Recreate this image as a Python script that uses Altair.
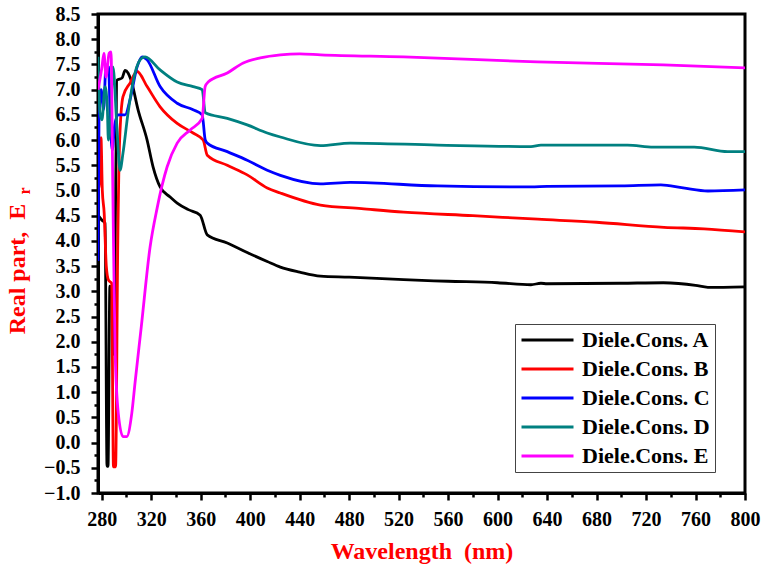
import altair as alt
import pandas as pd

series_names = ["Diele.Cons. A", "Diele.Cons. B", "Diele.Cons. C", "Diele.Cons. D", "Diele.Cons. E"]
series_colors = ["#000000", "#ff0000", "#0000ff", "#008080", "#ff00ff"]

wl_A = [277, 280.2, 282.7, 284.3, 285.1, 286.6, 288.5, 289.8, 292.4, 296.4,
        298.9, 301.3, 303.7, 309.4, 316.7, 321.5, 327.2, 335.3, 341, 350,
        359.6, 365.3, 381.5, 397.6, 413.8, 424.4, 440, 456.8, 480, 524,
        560, 600, 627, 635, 640, 700, 734, 760, 770, 800]
er_A = [4.51, 4.41, 4.35, -0.47, -0.47, 3.1, 3.0, 1.75, 7.19, 7.23,
        7.38, 7.33, 7.19, 6.6, 6.0, 5.47, 5.07, 4.87, 4.75, 4.62,
        4.51, 4.12, 3.96, 3.77, 3.59, 3.48, 3.38, 3.3, 3.28, 3.23,
        3.2, 3.17, 3.13, 3.16, 3.15, 3.16, 3.17, 3.12, 3.08, 3.09]

wl_B = [277, 278.5, 279.4, 280.5, 282, 283.7, 285.5, 288, 289.5, 291.2,
        293, 294.5, 297.2, 302.9, 308.6, 316.7, 327.2, 341, 353.9, 362,
        365.3, 381.5, 397.6, 413.8, 424.4, 456.8, 490, 524, 580, 632.5,
        680, 734.5, 766.9, 800]
er_B = [5.0, 5.2, 6.05, 5.0, 4.55, 3.5, 3.22, 3.16, -0.48, -0.48,
        4.0, 6.0, 6.86, 7.13, 7.36, 7.06, 6.66, 6.33, 6.14, 6.0,
        5.7, 5.5, 5.31, 5.05, 4.95, 4.71, 4.64, 4.57, 4.5, 4.43,
        4.37, 4.27, 4.24, 4.18]

wl_C = [277, 277.8, 279.5, 281.5, 283.5, 285.5, 287, 288.5, 290.5, 293.2,
        298.9, 302.9, 308.6, 312.6, 316.7, 327.2, 341, 353.9, 361.2, 363.7,
        365.3, 381.5, 397.6, 413.8, 424.4, 456.8, 481, 551.5, 627, 640,
        700, 732, 750, 770, 800]
er_C = [3.6, 6.4, 7.0, 6.6, 7.49, 7.45, 6.4, 5.8, 6.3, 6.5,
        6.5, 6.8, 7.45, 7.65, 7.59, 7.06, 6.73, 6.6, 6.5, 6.0,
        5.94, 5.77, 5.6, 5.4, 5.3, 5.13, 5.16, 5.09, 5.07, 5.08,
        5.09, 5.11, 5.05, 4.99, 5.01]

wl_D = [277, 278.6, 280.2, 282.7, 284.5, 285.4, 286.7, 289.1, 292.4, 294.8,
        297.2, 301.3, 306.9, 312.6, 315, 327.2, 341, 353.9, 361.2, 363.7,
        381.5, 397.6, 413.8, 424.4, 456.8, 481, 551.5, 627, 635, 705,
        726, 759, 786, 800]
er_D = [7.65, 6.54, 6.4, 7.06, 6.66, 6.0, 6.2, 7.45, 6.2, 5.4,
        5.74, 6.54, 7.33, 7.63, 7.65, 7.39, 7.15, 7.06, 7.0, 6.54,
        6.43, 6.3, 6.14, 6.06, 5.89, 5.94, 5.9, 5.87, 5.9, 5.9,
        5.86, 5.86, 5.77, 5.77]

wl_E = [277, 280.2, 281.8, 283.5, 286, 287.5, 289, 290.8, 293.4, 297.2,
        300.2, 304.3, 307, 312, 319.1, 324.8, 328.8, 332.9, 341, 351.5,
        361.2, 363.6, 366, 381.5, 394.4, 408.2, 424.4, 440, 457, 524,
        632, 734, 800]
er_E = [7.0, 7.45, 7.72, 7.25, 7.72, 7.75, 5.0, 1.83, 0.58, 0.12,
        0.12, 0.58, 1.2, 2.3, 3.88, 4.65, 5.1, 5.47, 5.94, 6.2,
        6.43, 7.06, 7.15, 7.33, 7.53, 7.63, 7.69, 7.71, 7.69, 7.65,
        7.55, 7.49, 7.43]

x_ticks = list(range(280, 801, 20))
y_ticks = [round(-1 + 0.25 * i, 2) for i in range(39)]

rows = []
for name, wl, er in zip(series_names, [wl_A, wl_B, wl_C, wl_D, wl_E],
                        [er_A, er_B, er_C, er_D, er_E]):
    for w, e in zip(wl, er):
        rows.append({"series": name, "wl": w, "er": e})
df = pd.DataFrame(rows)

FONT = "Liberation Serif"
NB = "\u00a0"

lines = alt.Chart(df).mark_line(strokeWidth=2.8, interpolate="monotone", clip=True).encode(
    x=alt.X("wl:Q",
            scale=alt.Scale(domain=[277, 800], nice=False, zero=False),
            axis=alt.Axis(values=x_ticks,
                          labelExpr="datum.value % 40 === 0 ? datum.label : ''",
                          tickSize={"condition": {"test": "datum.value % 40 === 0", "value": 7}, "value": 4},
                          title="Wavelength" + NB + NB + "(nm)", titleColor="#ff0000",
                          titleFont=FONT, titleFontSize=24, titleFontWeight="bold",
                          titlePadding=10, labelPadding=9, labelFlush=False)),
    y=alt.Y("er:Q",
            scale=alt.Scale(domain=[-1, 8.5], nice=False, zero=False),
            axis=alt.Axis(values=y_ticks,
                          labelExpr="abs(datum.value*2 - round(datum.value*2)) < 0.001 ? format(datum.value, '.1f') : ''",
                          tickSize={"condition": {"test": "abs(datum.value*2 - round(datum.value*2)) < 0.001", "value": 7}, "value": 4},
                          title=None, labelPadding=11)),
    color=alt.Color("series:N",
                    scale=alt.Scale(domain=series_names, range=series_colors),
                    legend=alt.Legend(orient="none", legendX=417, legendY=310, title=None,
                                      symbolType="stroke", symbolSize=2704, symbolStrokeWidth=3,
                                      clipHeight=22, rowPadding=7, padding=5, labelOffset=7,
                                      labelFont=FONT, labelFontSize=22, labelFontWeight="bold",
                                      labelColor="black", fillColor="white", strokeColor="#444444",
                                      labelLimit=0)),
    order=alt.Order("wl:Q"),
)

ytitle = alt.Chart(pd.DataFrame({"t": ["Real part," + NB + NB + "E"]})).mark_text(
    angle=270, font=FONT, fontSize=24, fontWeight="bold", color="#ff0000",
    align="center", baseline="middle"
).encode(x=alt.value(-80), y=alt.value(255), text="t:N")

ysub = alt.Chart(pd.DataFrame({"t": ["r"]})).mark_text(
    angle=270, font=FONT, fontSize=16, fontWeight="bold", color="#ff0000",
    align="center", baseline="middle"
).encode(x=alt.value(-73), y=alt.value(177), text="t:N")

chart = alt.layer(lines, ytitle, ysub).properties(
    width=647, height=479,
    autosize=alt.AutoSizeParams(type="none"),
    padding={"left": 98, "top": 14, "right": 17, "bottom": 77},
).configure_view(stroke="black", strokeWidth=3).configure_axis(
    grid=False, domainColor="black", domainWidth=3, tickColor="black", tickWidth=2.5,
    labelFont=FONT, labelFontSize=20, labelFontWeight="bold", labelColor="black",
)

chart.save("out.html", embed_options={"renderer": "svg", "actions": False})
